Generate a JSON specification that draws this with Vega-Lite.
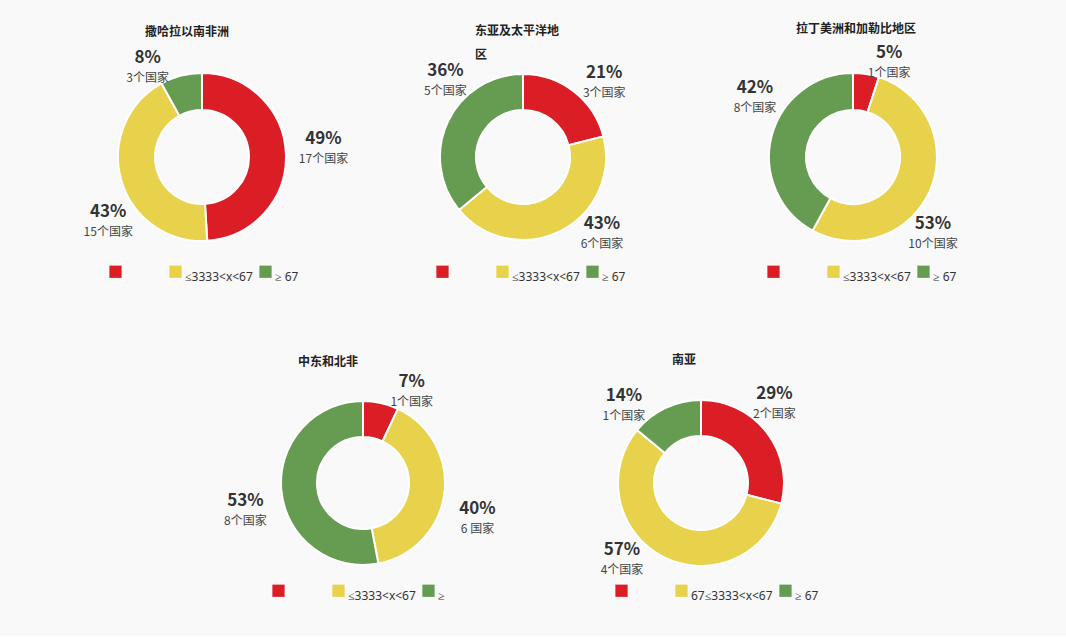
{
  "$schema": "https://vega.github.io/schema/vega-lite/v6.json",
  "background": "#f9f9f9",
  "padding": {"left": 52, "top": 22, "right": 54, "bottom": 34},
  "config": {
    "view": {"stroke": null},
    "font": "Noto Sans CJK SC",
    "title": {"font": "Noto Sans CJK SC", "fontSize": 12, "fontWeight": "bold", "color": "#222222", "baseline": "bottom"},
    "legend": {"padding": 0, "symbolType": "square", "symbolSize": 150, "symbolStrokeWidth": 0, "labelFont": "Noto Sans", "labelFontSize": 12, "labelColor": "#333333", "labelBaseline": "top", "labelOffset": 3, "columnPadding": 6, "direction": "horizontal", "orient": "none", "title": null, "labelOpacity": {"expr": "datum.value === '低' ? 0 : 1"}}
  },
  "datasets": {
    "d": [
      {"region": "撒哈拉以南非洲", "cat": "低", "k": 1, "pct": 49, "label": "49%", "count": "17个国家"},
      {"region": "撒哈拉以南非洲", "cat": "中", "k": 2, "pct": 43, "label": "43%", "count": "15个国家"},
      {"region": "撒哈拉以南非洲", "cat": "高", "k": 3, "pct": 8, "label": "8%", "count": "3个国家"},
      {"region": "东亚及太平洋地区", "cat": "低", "k": 1, "pct": 21, "label": "21%", "count": "3个国家"},
      {"region": "东亚及太平洋地区", "cat": "中", "k": 2, "pct": 43, "label": "43%", "count": "6个国家"},
      {"region": "东亚及太平洋地区", "cat": "高", "k": 3, "pct": 36, "label": "36%", "count": "5个国家"},
      {"region": "拉丁美洲和加勒比地区", "cat": "低", "k": 1, "pct": 5, "label": "5%", "count": "1个国家"},
      {"region": "拉丁美洲和加勒比地区", "cat": "中", "k": 2, "pct": 53, "label": "53%", "count": "10个国家"},
      {"region": "拉丁美洲和加勒比地区", "cat": "高", "k": 3, "pct": 42, "label": "42%", "count": "8个国家"},
      {"region": "中东和北非", "cat": "低", "k": 1, "pct": 7, "label": "7%", "count": "1个国家"},
      {"region": "中东和北非", "cat": "中", "k": 2, "pct": 40, "label": "40%", "count": "6 国家"},
      {"region": "中东和北非", "cat": "高", "k": 3, "pct": 53, "label": "53%", "count": "8个国家"},
      {"region": "南亚", "cat": "低", "k": 1, "pct": 29, "label": "29%", "count": "2个国家"},
      {"region": "南亚", "cat": "中", "k": 2, "pct": 57, "label": "57%", "count": "4个国家"},
      {"region": "南亚", "cat": "高", "k": 3, "pct": 14, "label": "14%", "count": "1个国家"}
    ]
  },
  "resolve": {"scale": {"color": "independent"}, "legend": {"color": "independent"}},
  "center": true,
  "spacing": 71,
  "vconcat": [
    {
      "resolve": {"scale": {"color": "independent"}, "legend": {"color": "independent"}},
      "spacing": 21,
      "hconcat": [
        {
          "width": 300, "height": 200,
          "title": {"text": "撒哈拉以南非洲", "offset": 10, "dx": -15},
          "data": {"name": "d"},
          "transform": [{"filter": "datum.region === '撒哈拉以南非洲'"}],
          "encoding": {"theta": {"field": "pct", "type": "quantitative", "stack": true}, "order": {"field": "k", "type": "quantitative"}},
          "layer": [
            {"mark": {"type": "arc", "innerRadius": 47, "outerRadius": 84, "stroke": "#ffffff", "strokeWidth": 2},
             "encoding": {"color": {"field": "cat", "type": "nominal", "scale": {"domain": ["低", "中", "高"], "range": ["#db1d26", "#e8d24b", "#659c51"]},
               "legend": {"legendX": 57, "legendY": 208, "labelExpr": "datum.value === '高' ? '≥ 67' : datum.value === '中' ? '≤3333<x<67' : '00000.'"}}}},
            {"mark": {"type": "text", "thetaOffset": {"expr": "0.349*sin(4*PI*(datum.pct_start+datum.pct_end)/100)"}, "radius": {"expr": "1/sqrt(pow(sin(PI*(datum.pct_start+datum.pct_end)/100+0.349*sin(4*PI*(datum.pct_start+datum.pct_end)/100))/122,2)+pow(cos(PI*(datum.pct_start+datum.pct_end)/100+0.349*sin(4*PI*(datum.pct_start+datum.pct_end)/100))/100,2))"}, "dy": -9, "fontSize": 17, "fontWeight": "bold", "color": "#333333"}, "encoding": {"text": {"field": "label"}}},
            {"mark": {"type": "text", "thetaOffset": {"expr": "0.349*sin(4*PI*(datum.pct_start+datum.pct_end)/100)"}, "radius": {"expr": "1/sqrt(pow(sin(PI*(datum.pct_start+datum.pct_end)/100+0.349*sin(4*PI*(datum.pct_start+datum.pct_end)/100))/122,2)+pow(cos(PI*(datum.pct_start+datum.pct_end)/100+0.349*sin(4*PI*(datum.pct_start+datum.pct_end)/100))/100,2))"}, "dy": 11, "fontSize": 12, "color": "#444444"}, "encoding": {"text": {"field": "count"}}}
          ]
        },
        {
          "width": 300, "height": 200,
          "title": {"text": ["东亚及太平洋地", "区"], "offset": -5, "dx": -48, "align": "left", "lineHeight": 24},
          "data": {"name": "d"},
          "transform": [{"filter": "datum.region === '东亚及太平洋地区'"}],
          "encoding": {"theta": {"field": "pct", "type": "quantitative", "stack": true}, "order": {"field": "k", "type": "quantitative"}},
          "layer": [
            {"mark": {"type": "arc", "innerRadius": 47, "outerRadius": 83, "stroke": "#ffffff", "strokeWidth": 2},
             "encoding": {"color": {"field": "cat", "type": "nominal", "scale": {"domain": ["低", "中", "高"], "range": ["#db1d26", "#e8d24b", "#659c51"]},
               "legend": {"legendX": 63, "legendY": 208, "labelExpr": "datum.value === '高' ? '≥ 67' : datum.value === '中' ? '≤3333<x<67' : '00000.'"}}}},
            {"mark": {"type": "text", "thetaOffset": {"expr": "0.349*sin(4*PI*(datum.pct_start+datum.pct_end)/100)"}, "radius": {"expr": "1/sqrt(pow(sin(PI*(datum.pct_start+datum.pct_end)/100+0.349*sin(4*PI*(datum.pct_start+datum.pct_end)/100))/122,2)+pow(cos(PI*(datum.pct_start+datum.pct_end)/100+0.349*sin(4*PI*(datum.pct_start+datum.pct_end)/100))/100,2))"}, "dy": -9, "fontSize": 17, "fontWeight": "bold", "color": "#333333"}, "encoding": {"text": {"field": "label"}}},
            {"mark": {"type": "text", "thetaOffset": {"expr": "0.349*sin(4*PI*(datum.pct_start+datum.pct_end)/100)"}, "radius": {"expr": "1/sqrt(pow(sin(PI*(datum.pct_start+datum.pct_end)/100+0.349*sin(4*PI*(datum.pct_start+datum.pct_end)/100))/122,2)+pow(cos(PI*(datum.pct_start+datum.pct_end)/100+0.349*sin(4*PI*(datum.pct_start+datum.pct_end)/100))/100,2))"}, "dy": 11, "fontSize": 12, "color": "#444444"}, "encoding": {"text": {"field": "count"}}}
          ]
        },
        {
          "width": 318, "height": 200,
          "title": {"text": "拉丁美洲和加勒比地区", "offset": 8, "dx": 3},
          "data": {"name": "d"},
          "transform": [{"filter": "datum.region === '拉丁美洲和加勒比地区'"}],
          "encoding": {"theta": {"field": "pct", "type": "quantitative", "stack": true}, "order": {"field": "k", "type": "quantitative"}},
          "layer": [
            {"mark": {"type": "arc", "innerRadius": 47, "outerRadius": 84, "stroke": "#ffffff", "strokeWidth": 2},
             "encoding": {"color": {"field": "cat", "type": "nominal", "scale": {"domain": ["低", "中", "高"], "range": ["#db1d26", "#e8d24b", "#659c51"]},
               "legend": {"legendX": 73, "legendY": 208, "labelExpr": "datum.value === '高' ? '≥ 67' : datum.value === '中' ? '≤3333<x<67' : '00000.'"}}}},
            {"mark": {"type": "text", "thetaOffset": {"expr": "0.349*sin(4*PI*(datum.pct_start+datum.pct_end)/100)"}, "radius": {"expr": "1/sqrt(pow(sin(PI*(datum.pct_start+datum.pct_end)/100+0.349*sin(4*PI*(datum.pct_start+datum.pct_end)/100))/122,2)+pow(cos(PI*(datum.pct_start+datum.pct_end)/100+0.349*sin(4*PI*(datum.pct_start+datum.pct_end)/100))/100,2))"}, "dy": -9, "fontSize": 17, "fontWeight": "bold", "color": "#333333"}, "encoding": {"text": {"field": "label"}}},
            {"mark": {"type": "text", "thetaOffset": {"expr": "0.349*sin(4*PI*(datum.pct_start+datum.pct_end)/100)"}, "radius": {"expr": "1/sqrt(pow(sin(PI*(datum.pct_start+datum.pct_end)/100+0.349*sin(4*PI*(datum.pct_start+datum.pct_end)/100))/122,2)+pow(cos(PI*(datum.pct_start+datum.pct_end)/100+0.349*sin(4*PI*(datum.pct_start+datum.pct_end)/100))/100,2))"}, "dy": 11, "fontSize": 12, "color": "#444444"}, "encoding": {"text": {"field": "count"}}}
          ]
        }
      ]
    },
    {
      "resolve": {"scale": {"color": "independent"}, "legend": {"color": "independent"}},
      "spacing": 38,
      "hconcat": [
        {
          "width": 300, "height": 200,
          "title": {"text": "中东和北非", "offset": 4, "dx": -35},
          "data": {"name": "d"},
          "transform": [{"filter": "datum.region === '中东和北非'"}],
          "encoding": {"theta": {"field": "pct", "type": "quantitative", "stack": true}, "order": {"field": "k", "type": "quantitative"}},
          "layer": [
            {"mark": {"type": "arc", "innerRadius": 46, "outerRadius": 82, "stroke": "#ffffff", "strokeWidth": 2},
             "encoding": {"color": {"field": "cat", "type": "nominal", "scale": {"domain": ["低", "中", "高"], "range": ["#db1d26", "#e8d24b", "#659c51"]},
               "legend": {"legendX": 59, "legendY": 201, "labelExpr": "datum.value === '高' ? '≥' : datum.value === '中' ? '≤3333<x<67' : '00000.'"}}}},
            {"mark": {"type": "text", "thetaOffset": {"expr": "0.349*sin(4*PI*(datum.pct_start+datum.pct_end)/100)"}, "radius": {"expr": "1/sqrt(pow(sin(PI*(datum.pct_start+datum.pct_end)/100+0.349*sin(4*PI*(datum.pct_start+datum.pct_end)/100))/122,2)+pow(cos(PI*(datum.pct_start+datum.pct_end)/100+0.349*sin(4*PI*(datum.pct_start+datum.pct_end)/100))/100,2))"}, "dy": -9, "fontSize": 17, "fontWeight": "bold", "color": "#333333"}, "encoding": {"text": {"field": "label"}}},
            {"mark": {"type": "text", "thetaOffset": {"expr": "0.349*sin(4*PI*(datum.pct_start+datum.pct_end)/100)"}, "radius": {"expr": "1/sqrt(pow(sin(PI*(datum.pct_start+datum.pct_end)/100+0.349*sin(4*PI*(datum.pct_start+datum.pct_end)/100))/122,2)+pow(cos(PI*(datum.pct_start+datum.pct_end)/100+0.349*sin(4*PI*(datum.pct_start+datum.pct_end)/100))/100,2))"}, "dy": 11, "fontSize": 12, "color": "#444444"}, "encoding": {"text": {"field": "count"}}}
          ]
        },
        {
          "width": 300, "height": 200,
          "title": {"text": "南亚", "offset": 16, "dx": -17},
          "data": {"name": "d"},
          "transform": [{"filter": "datum.region === '南亚'"}],
          "encoding": {"theta": {"field": "pct", "type": "quantitative", "stack": true}, "order": {"field": "k", "type": "quantitative"}},
          "layer": [
            {"mark": {"type": "arc", "innerRadius": 47, "outerRadius": 83, "stroke": "#ffffff", "strokeWidth": 2},
             "encoding": {"color": {"field": "cat", "type": "nominal", "scale": {"domain": ["低", "中", "高"], "range": ["#db1d26", "#e8d24b", "#659c51"]},
               "legend": {"legendX": 64, "legendY": 201, "labelExpr": "datum.value === '高' ? '≥ 67' : datum.value === '中' ? '67≤3333<x<67' : '00000.'"}}}},
            {"mark": {"type": "text", "thetaOffset": {"expr": "0.349*sin(4*PI*(datum.pct_start+datum.pct_end)/100)"}, "radius": {"expr": "1/sqrt(pow(sin(PI*(datum.pct_start+datum.pct_end)/100+0.349*sin(4*PI*(datum.pct_start+datum.pct_end)/100))/122,2)+pow(cos(PI*(datum.pct_start+datum.pct_end)/100+0.349*sin(4*PI*(datum.pct_start+datum.pct_end)/100))/100,2))"}, "dy": -9, "fontSize": 17, "fontWeight": "bold", "color": "#333333"}, "encoding": {"text": {"field": "label"}}},
            {"mark": {"type": "text", "thetaOffset": {"expr": "0.349*sin(4*PI*(datum.pct_start+datum.pct_end)/100)"}, "radius": {"expr": "1/sqrt(pow(sin(PI*(datum.pct_start+datum.pct_end)/100+0.349*sin(4*PI*(datum.pct_start+datum.pct_end)/100))/122,2)+pow(cos(PI*(datum.pct_start+datum.pct_end)/100+0.349*sin(4*PI*(datum.pct_start+datum.pct_end)/100))/100,2))"}, "dy": 11, "fontSize": 12, "color": "#444444"}, "encoding": {"text": {"field": "count"}}}
          ]
        }
      ]
    }
  ]
}
